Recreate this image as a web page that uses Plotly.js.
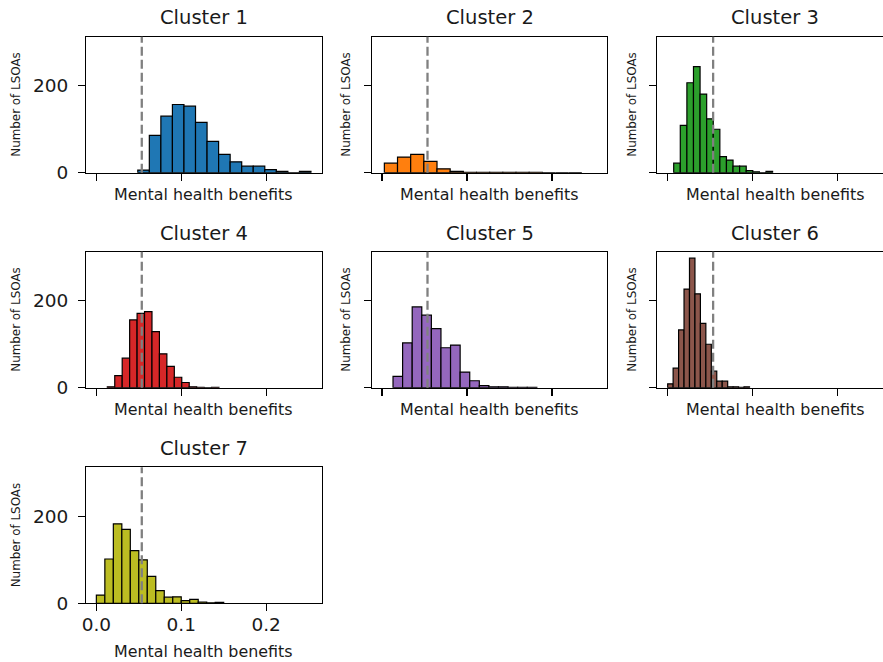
<!DOCTYPE html>
<html>
<head>
<meta charset="utf-8">
<script src="https://cdn.plot.ly/plotly-3.0.1.min.js"></script>
<style>
  html, body { margin: 0; padding: 0; overflow: hidden; background: #fff; }
  #chart { width: 893px; height: 662px; }
</style>
</head>
<body>
<div id="chart"></div>
<script>
// Histograms of mental health benefits per LSOA, one panel per cluster (15 bins each)
const clusterNames = ['Cluster 1', 'Cluster 2', 'Cluster 3', 'Cluster 4', 'Cluster 5', 'Cluster 6', 'Cluster 7'];

// left edge of the first bin and the bin width for each cluster
const binStart = [0.0488, 0.0027, 0.0071, 0.0129, 0.0129, 0.0000, 0.0000];
const binWidth = [0.0136, 0.0155, 0.00776, 0.00877, 0.01129, 0.00642, 0.0100];

// counts of LSOAs per bin
const counts1 = [6, 86, 130, 157, 153, 116, 72, 42, 25, 15, 15, 7, 3, 0, 3];
const counts2 = [22, 36, 42, 26, 9, 3, 1, 1, 1, 1, 1, 1, 0, 0, 0];
const counts3 = [22, 109, 207, 244, 181, 124, 100, 37, 29, 15, 15, 5, 2, 0, 3];
const counts4 = [2, 28, 68, 156, 171, 175, 129, 78, 49, 24, 12, 2, 1, 0, 1];
const counts5 = [26, 103, 186, 167, 136, 92, 98, 36, 16, 5, 2, 2, 1, 1, 1];
const counts6 = [9, 45, 133, 227, 298, 216, 148, 100, 38, 15, 15, 2, 2, 1, 2];
const counts7 = [19, 102, 183, 170, 121, 100, 62, 29, 14, 15, 6, 9, 3, 1, 2];
const allCounts = [counts1, counts2, counts3, counts4, counts5, counts6, counts7];

// overall mean benefit, drawn as a dashed reference line in every panel
const meanBenefit = 0.0535;

const xTicks = [0.0, 0.1, 0.2];
const xTickText = ['0.0', '0.1', '0.2'];
const yTicks = [0, 200];

const xLabel = 'Mental health benefits';
const yLabel = 'Number of LSOAs';

// ---- styling / geometry ----
const colors = ['#1f77b4', '#ff7f0e', '#2ca02c', '#d62728', '#9467bd', '#8c564b', '#bcbd22'];
const W = 893, H = 662;
const colPx = [[86, 321.5], [371.7, 607.3], [657.3, 893]];
const rowPx = [[36.7, 172.7], [251.7, 387.7], [467.3, 603.3]]; // top, bottom
const titleY = [17.5, 233, 448];
const xLabelY = [194, 409, 651];
const yLabelX = [16, 346, 632];
const textColor = '#1a1a1a';
const font = 'DejaVu Sans';

const xRange = [-0.0122, 0.2652];
const yRange = [0, 313];

const px2x = p => p / W;
const px2y = p => 1 - p / H;

const traces = [];
const layout = {
  width: W, height: H,
  margin: { l: 0, r: 0, t: 0, b: 0 },
  paper_bgcolor: '#fff', plot_bgcolor: '#fff',
  showlegend: false,
  font: { family: font, color: textColor },
  shapes: [], annotations: []
};

allCounts.forEach((cnt, i) => {
  const r = Math.floor(i / 3), c = i % 3;
  const n = i + 1;
  const xa = 'x' + (n === 1 ? '' : n), ya = 'y' + (n === 1 ? '' : n);
  const centers = cnt.map((_, k) => binStart[i] + (k + 0.5) * binWidth[i]);

  traces.push({
    type: 'bar', x: centers, y: cnt,
    width: cnt.map(() => binWidth[i]),
    xaxis: xa, yaxis: ya,
    marker: { color: colors[i], line: { color: '#000', width: 1.2 } },
    hoverinfo: 'skip'
  });

  const common = {
    showline: true, mirror: true, linecolor: '#000', linewidth: 1.1,
    showgrid: false, zeroline: false,
    ticks: 'outside', ticklen: 7, tickwidth: 1.2, tickcolor: '#000',
    tickfont: { family: font, size: 18.5, color: textColor },
    fixedrange: true
  };
  layout['xaxis' + (n === 1 ? '' : n)] = Object.assign({}, common, {
    domain: [px2x(colPx[c][0]), px2x(colPx[c][1])],
    anchor: ya, range: xRange,
    tickmode: 'array', tickvals: xTicks, ticktext: xTickText,
    showticklabels: i === 6, ticklabelstandoff: -3
  });
  layout['yaxis' + (n === 1 ? '' : n)] = Object.assign({}, common, {
    domain: [px2y(rowPx[r][1]), px2y(rowPx[r][0])],
    anchor: xa, range: yRange,
    tickmode: 'array', tickvals: yTicks,
    showticklabels: c === 0, ticklabelstandoff: 6
  });

  layout.shapes.push({
    type: 'line', xref: xa, yref: ya + ' domain',
    x0: meanBenefit, x1: meanBenefit, y0: 0, y1: 1,
    line: { color: '#808080', width: 2.3, dash: '9px,4px' }
  });

  const xMid = px2x((colPx[c][0] + colPx[c][1]) / 2);
  layout.annotations.push({
    text: clusterNames[i], xref: 'paper', yref: 'paper',
    x: xMid, y: px2y(titleY[r]), xanchor: 'center', yanchor: 'middle',
    showarrow: false, font: { family: font, size: 19.5, color: textColor }
  });
  layout.annotations.push({
    text: xLabel, xref: 'paper', yref: 'paper',
    x: xMid, y: px2y(xLabelY[r]), xanchor: 'center', yanchor: 'middle',
    showarrow: false, font: { family: font, size: 15.9, color: textColor }
  });
  layout.annotations.push({
    text: yLabel, xref: 'paper', yref: 'paper', textangle: -90,
    x: px2x(yLabelX[c]), y: px2y((rowPx[r][0] + rowPx[r][1]) / 2),
    xanchor: 'center', yanchor: 'middle',
    showarrow: false, font: { family: font, size: 11.9, color: textColor }
  });
});

Plotly.newPlot('chart', traces, layout, { staticPlot: true, displayModeBar: false });
</script>
</body>
</html>
